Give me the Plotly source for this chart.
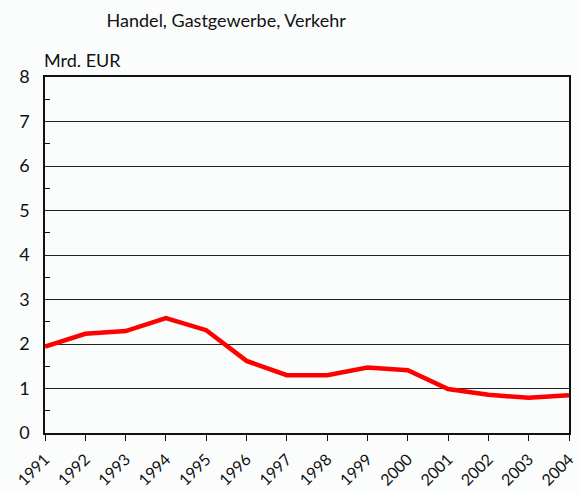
import plotly.graph_objects as go

years = ["1991", "1992", "1993", "1994", "1995", "1996", "1997", "1998", "1999", "2000", "2001", "2002", "2003", "2004"]
values = [1.94, 2.23, 2.29, 2.58, 2.31, 1.62, 1.30, 1.30, 1.47, 1.41, 0.99, 0.86, 0.79, 0.85]
y_ticks = [0, 1, 2, 3, 4, 5, 6, 7, 8]

FONT = "Lato, 'Open Sans', sans-serif"

fig = go.Figure()
fig.add_trace(go.Scatter(
    x=list(range(len(years))), y=values, mode="lines",
    line=dict(color="#ff0000", width=4.5), hoverinfo="skip", showlegend=False,
))

fig.update_layout(
    width=580, height=492,
    margin=dict(l=45, r=11, t=77, b=59, autoexpand=False),
    paper_bgcolor="#fbfdfd", plot_bgcolor="#fbfdfd",
    font=dict(family=FONT, color="#111111"),
    title=dict(text="Handel, Gastgewerbe, Verkehr", x=0.39, xanchor="center", y=0.958, yanchor="middle",
               font=dict(size=18, family=FONT, color="#111111"), automargin=False),
    annotations=[dict(text="Mrd. EUR", xref="paper", yref="paper", x=-0.006, y=1.0, yshift=4,
                      xanchor="left", yanchor="bottom", showarrow=False,
                      font=dict(size=18, family=FONT, color="#111111"))],
)
fig.update_xaxes(
    range=[0, len(years) - 1], tickmode="array", tickvals=list(range(len(years))), ticktext=years,
    tickangle=-45, tickfont=dict(size=16, family=FONT), ticks="outside", ticklen=6, tickcolor="#111111",
    ticklabelstandoff=3,
    showline=True, linecolor="#111111", linewidth=1.5, mirror=True, showgrid=False, zeroline=False,
    automargin=False,
)
fig.update_yaxes(
    range=[0, 8], tickmode="array", tickvals=y_ticks, tickfont=dict(size=18, family=FONT),
    ticks="", ticklabelstandoff=10, showline=True, linecolor="#111111", linewidth=1.5, mirror=True,
    showgrid=True, gridcolor="#222222", gridwidth=1, zeroline=False, automargin=False,
    minor=dict(tickvals=[0.5, 1.5, 2.5, 3.5, 4.5, 5.5, 6.5, 7.5], ticks="inside", ticklen=5,
               tickcolor="#111111", showgrid=False),
)

fig.write_html("out.html", config={"displayModeBar": False},
               post_script="document.body.style.margin='0';document.body.style.background='#fbfdfd';")
